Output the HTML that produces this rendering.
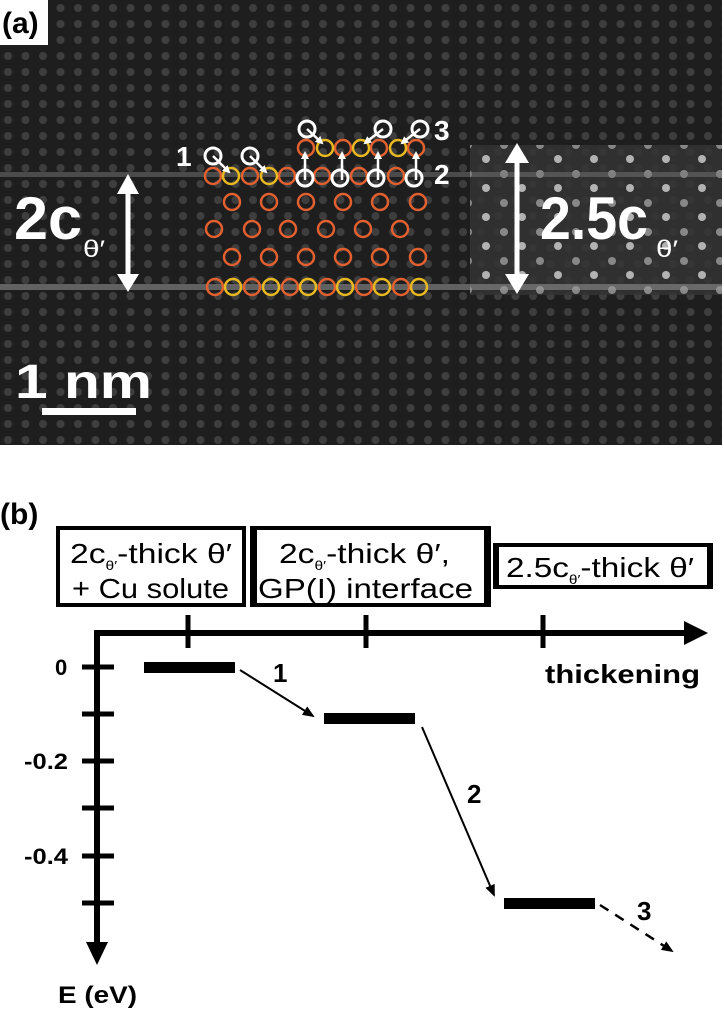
<!DOCTYPE html>
<html><head><style>
html,body{margin:0;padding:0;background:#fff;}
svg{display:block;font-family:"Liberation Sans",Arial,sans-serif;}
</style></head><body>
<svg width="724" height="1023" viewBox="0 0 724 1023" xmlns="http://www.w3.org/2000/svg">
<defs>
<pattern id="lat" width="17.5" height="16" patternUnits="userSpaceOnUse">
<rect width="17.5" height="16" fill="#1e1e1e"/>
<circle cx="8" cy="8" r="4" fill="#3e3e3e"/>
</pattern>
<pattern id="latB" width="36" height="29" patternUnits="userSpaceOnUse">
<rect width="36" height="29" fill="#333"/>
<circle cx="18" cy="14" r="4" fill="#ccc"/>
<circle cx="0" cy="0" r="4" fill="#999"/>
<circle cx="36" cy="0" r="4" fill="#999"/><circle cx="0" cy="29" r="4" fill="#999"/><circle cx="36" cy="29" r="4" fill="#999"/>
</pattern>
<marker id="ah" markerWidth="8" markerHeight="8" refX="6" refY="4" orient="auto" markerUnits="userSpaceOnUse"><path d="M0,0 L8,4 L0,8 z" fill="#fff"/></marker>
<marker id="bh" markerWidth="12" markerHeight="10" refX="10" refY="5" orient="auto" markerUnits="userSpaceOnUse"><path d="M0,0 L12,5 L0,10 z" fill="#000"/></marker>
</defs>
<!-- panel a -->
<rect x="0" y="0" width="722" height="445" fill="url(#lat)"/>
<rect x="470" y="145" width="252" height="150" fill="url(#latB)" opacity="0.85"/>
<rect x="0" y="172" width="722" height="5" fill="#777" opacity="0.5"/>
<rect x="0" y="284" width="722" height="6" fill="#999" opacity="0.55"/>
<rect x="0" y="0" width="48" height="45" fill="#fff"/>
<text x="2" y="33" font-size="30" font-weight="bold" fill="#000">(a)</text>
<g fill="none" stroke-width="2.5">
<g stroke="#e06030">
<circle cx="213" cy="176" r="8"/><circle cx="250" cy="176" r="8"/><circle cx="287" cy="176" r="8"/><circle cx="322" cy="176" r="8"/><circle cx="359" cy="176" r="8"/><circle cx="396" cy="176" r="8"/>
<circle cx="232" cy="202" r="8"/><circle cx="269" cy="202" r="8"/><circle cx="306" cy="202" r="8"/><circle cx="343" cy="202" r="8"/><circle cx="380" cy="202" r="8"/><circle cx="418" cy="202" r="8"/>
<circle cx="214" cy="229" r="8"/><circle cx="252" cy="229" r="8"/><circle cx="288" cy="229" r="8"/><circle cx="326" cy="229" r="8"/><circle cx="363" cy="229" r="8"/><circle cx="400" cy="229" r="8"/>
<circle cx="232" cy="257" r="8"/><circle cx="269" cy="257" r="8"/><circle cx="306" cy="257" r="8"/><circle cx="343" cy="257" r="8"/><circle cx="380" cy="257" r="8"/><circle cx="418" cy="257" r="8"/>
<circle cx="215" cy="287" r="8"/><circle cx="252" cy="287" r="8"/><circle cx="290" cy="287" r="8"/><circle cx="327" cy="287" r="8"/><circle cx="364" cy="287" r="8"/><circle cx="401" cy="287" r="8"/>
<circle cx="306" cy="148" r="8"/><circle cx="343" cy="148" r="8"/><circle cx="379" cy="148" r="8"/><circle cx="416" cy="148" r="8"/>
</g>
<g stroke="#e8b820">
<circle cx="231" cy="176" r="8"/><circle cx="269" cy="176" r="8"/>
<circle cx="233" cy="287" r="8"/><circle cx="271" cy="287" r="8"/><circle cx="308" cy="287" r="8"/><circle cx="345" cy="287" r="8"/><circle cx="382" cy="287" r="8"/><circle cx="419" cy="287" r="8"/>
<circle cx="325" cy="148" r="8"/><circle cx="361" cy="148" r="8"/><circle cx="398" cy="148" r="8"/>
</g>
<g stroke="#fff" stroke-width="3">
<circle cx="305" cy="178" r="8"/><circle cx="340" cy="178" r="8"/><circle cx="376" cy="178" r="8"/><circle cx="414" cy="178" r="8"/>
<circle cx="213" cy="156" r="8"/><circle cx="250" cy="156" r="8"/>
<circle cx="307" cy="129" r="8"/><circle cx="383" cy="129" r="8"/><circle cx="420" cy="129" r="8"/>
</g>
</g>
<g stroke="#fff" stroke-width="2.5" marker-end="url(#ah)">
<line x1="213" y1="156" x2="229" y2="172"/><line x1="250" y1="156" x2="266" y2="172"/>
<line x1="307" y1="129" x2="322" y2="143"/><line x1="383" y1="129" x2="365" y2="143"/><line x1="420" y1="129" x2="402" y2="143"/>
<line x1="305" y1="180" x2="305" y2="153"/><line x1="342" y1="180" x2="342" y2="153"/><line x1="378" y1="180" x2="378" y2="153"/><line x1="416" y1="180" x2="416" y2="153"/>
</g>
<g fill="#fff" font-weight="bold">
<text x="176" y="166" font-size="28">1</text>
<text x="434" y="140" font-size="28">3</text>
<text x="434" y="184" font-size="28">2</text>
<text x="14" y="239" font-size="60" textLength="68" lengthAdjust="spacingAndGlyphs">2c</text>
<text x="83" y="257" font-size="24" textLength="22" lengthAdjust="spacingAndGlyphs" font-weight="normal">θ′</text>
<text x="540" y="239" font-size="60" textLength="108" lengthAdjust="spacingAndGlyphs">2.5c</text>
<text x="656" y="257" font-size="24" textLength="22" lengthAdjust="spacingAndGlyphs" font-weight="normal">θ′</text>
<text x="15" y="398" font-size="48" textLength="137" lengthAdjust="spacingAndGlyphs">1 nm</text>
</g>
<rect x="42" y="408" width="94" height="7" fill="#fff"/>
<g stroke="#fff" stroke-width="5"><line x1="128" y1="190" x2="128" y2="278"/><line x1="517" y1="160" x2="517" y2="278"/></g>
<g fill="#fff">
<path d="M117,194 L128,174 L139,194z"/><path d="M117,274 L128,292 L139,274z"/>
<path d="M505,163 L517,143 L529,163z"/><path d="M505,274 L517,294 L529,274z"/>
</g>
<!-- panel b -->
<text x="0" y="524" font-size="30" font-weight="bold">(b)</text>
<g fill="none" stroke="#000" stroke-width="4">
<rect x="58" y="528" width="186" height="77"/>
<rect x="252" y="528" width="237" height="77"/>
<rect x="495" y="545" width="216" height="42"/>
</g>
<rect x="252" y="528" width="5" height="77" fill="#000"/><rect x="484" y="528" width="6" height="77" fill="#000"/>
<rect x="493" y="545" width="6" height="42" fill="#000"/><rect x="707" y="545" width="6" height="42" fill="#000"/>
<g font-size="28" fill="#000">
<text x="70" y="563" textLength="162" lengthAdjust="spacingAndGlyphs">2c<tspan font-size="13" dy="7">θ′</tspan><tspan dy="-7">-thick θ′</tspan></text>
<text x="72" y="598" textLength="157" lengthAdjust="spacingAndGlyphs">+ Cu solute</text>
<text x="279" y="563" textLength="171" lengthAdjust="spacingAndGlyphs">2c<tspan font-size="13" dy="7">θ′</tspan><tspan dy="-7">-thick θ′,</tspan></text>
<text x="258" y="598" textLength="215" lengthAdjust="spacingAndGlyphs">GP(I) interface</text>
<text x="506" y="577" textLength="188" lengthAdjust="spacingAndGlyphs">2.5c<tspan font-size="13" dy="7">θ′</tspan><tspan dy="-7">-thick θ′</tspan></text>
</g>
<g stroke="#000" stroke-width="6">
<line x1="97" y1="633" x2="690" y2="633"/>
<line x1="97" y1="630" x2="97" y2="945"/>
</g>
<g stroke="#000" stroke-width="5">
<line x1="188" y1="615" x2="188" y2="648"/><line x1="366" y1="615" x2="366" y2="648"/><line x1="543" y1="615" x2="543" y2="648"/>
<line x1="82" y1="667" x2="114" y2="667"/><line x1="82" y1="714" x2="114" y2="714"/><line x1="82" y1="761" x2="114" y2="761"/><line x1="82" y1="808" x2="114" y2="808"/><line x1="82" y1="856" x2="114" y2="856"/><line x1="82" y1="903" x2="114" y2="903"/>
</g>
<path d="M684,621 L708,633 L684,645z"/><path d="M86,942 L97,965 L108,942z"/>
<g fill="#000">
<rect x="144" y="662" width="91" height="11"/><rect x="324" y="713" width="91" height="11"/><rect x="504" y="898" width="91" height="11"/>
</g>
<g stroke="#000" stroke-width="2" marker-end="url(#bh)">
<line x1="240" y1="670" x2="313" y2="716"/>
<line x1="422" y1="727" x2="494" y2="895"/>
<line x1="600" y1="905" x2="672" y2="951" stroke-dasharray="10,8" stroke-width="2.5"/>
</g>
<g font-weight="bold" fill="#000">
<text x="273" y="682" font-size="26">1</text>
<text x="467" y="803" font-size="26">2</text>
<text x="637" y="920" font-size="26">3</text>
<text x="545" y="683" font-size="26" textLength="155" lengthAdjust="spacingAndGlyphs">thickening</text>
<text x="55" y="675" font-size="22">0</text>
<text x="24" y="769" font-size="22" textLength="44" lengthAdjust="spacingAndGlyphs">-0.2</text>
<text x="24" y="864" font-size="22" textLength="44" lengthAdjust="spacingAndGlyphs">-0.4</text>
<text x="58" y="1003" font-size="24" textLength="79" lengthAdjust="spacingAndGlyphs">E (eV)</text>
</g>
</svg>
</body></html>
